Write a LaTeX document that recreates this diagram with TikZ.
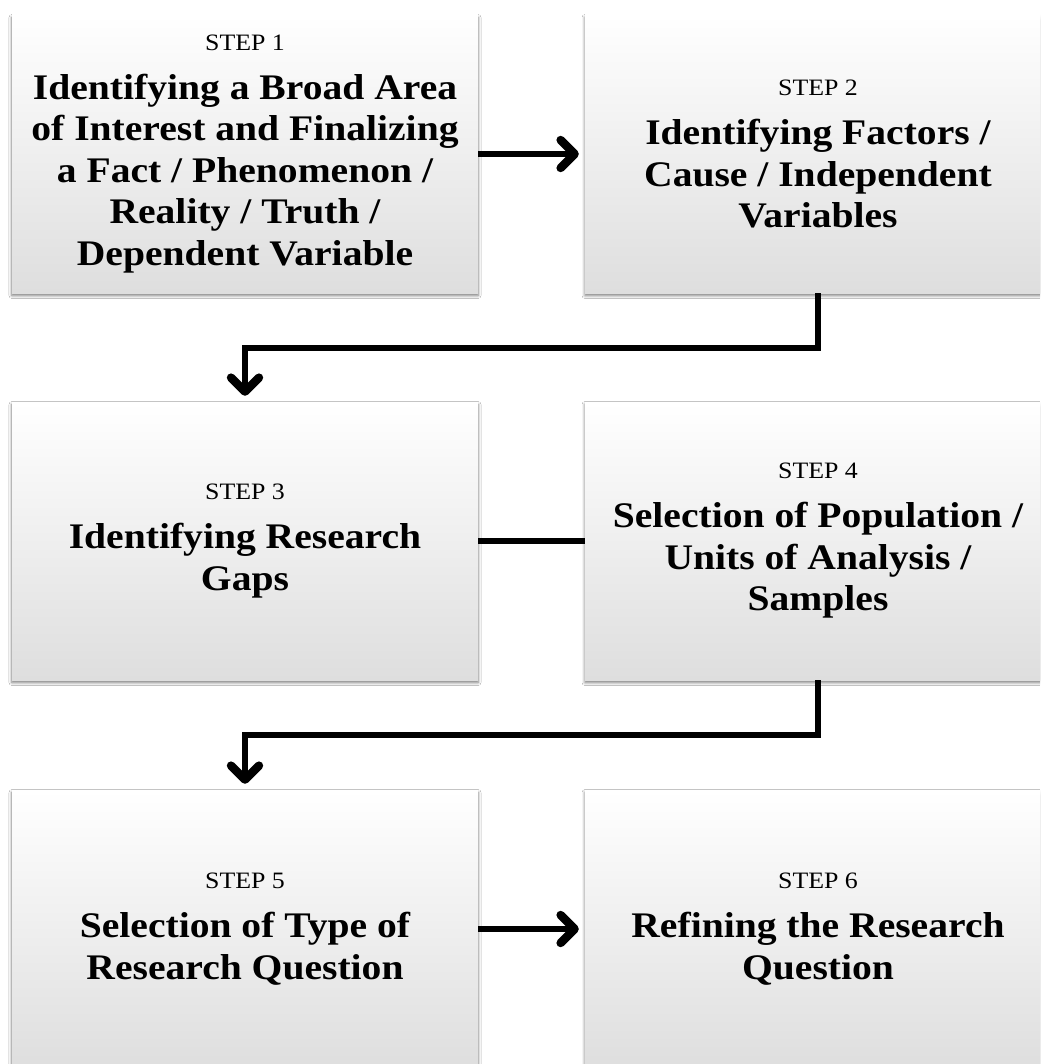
\documentclass[tikz,border=0pt]{standalone}
\usepackage{fontspec}
\setmainfont{Liberation Serif}[FakeStretch=1.1]
\usetikzlibrary{arrows.meta,positioning,shadows.blur}
\definecolor{boxtop}{RGB}{255,255,255}
\definecolor{boxbot}{RGB}{222,222,222}
\tikzset{
  stepbox/.style={minimum width=466pt, minimum height=278pt, inner sep=0pt,
    align=center, draw=none, top color=boxtop, bottom color=boxbot,
    blur shadow={shadow xshift=0pt, shadow yshift=-2.5pt,
      shadow blur radius=3pt, shadow opacity=55},
    font=\fontsize{36}{41.5}\selectfont\bfseries},
  flowln/.style={-{Straight Barb[length=14pt,width=28pt,line width=0pt 1.4,
      round]}, line width=6pt, shorten >=6pt},
  plainln/.style={line width=6pt},
}
\newcommand{\steplbl}[1]{{\fontsize{23.5}{28}\selectfont\mdseries STEP #1}\\[7.5pt]}

\begin{document}
\begin{tikzpicture}[x=1pt, y=-1pt]
  \useasboundingbox (0,0) rectangle (1040,1064);
  \fill[white] (0,0) rectangle (1040,1064);
  \clip (0,0) rectangle (1040,1064);
  % the six steps, two per row
  \node[stepbox] (s1) at (245,154) {\steplbl{1}Identifying a Broad Area\\
    of Interest and Finalizing\\ a Fact / Phenomenon /\\ Reality / Truth /\\
    Dependent Variable};
  \node[stepbox] (s2) at (818,154) {\steplbl{2}Identifying Factors /\\
    Cause / Independent\\ Variables};
  \node[stepbox] (s3) at (245,541) {\steplbl{3}Identifying Research\\ Gaps};
  \node[stepbox] (s4) at (818,541) {\steplbl{4}Selection of Population /\\
    Units of Analysis /\\ Samples};
  \node[stepbox] (s5) at (245,929) {\steplbl{5}Selection of Type of\\
    Research Question};
  \node[stepbox] (s6) at (818,929) {\steplbl{6}Refining the Research\\
    Question};
  % connectors
  \draw[flowln] (s1) -- (s2);
  \draw[flowln] (s2.south) -- ++(0,55) -| (s3.north);
  \draw[plainln] (s3) -- (s4);
  \draw[flowln] (s4.south) -- ++(0,55) -| (s5.north);
  \draw[flowln] (s5) -- (s6);
\end{tikzpicture}
\end{document}
